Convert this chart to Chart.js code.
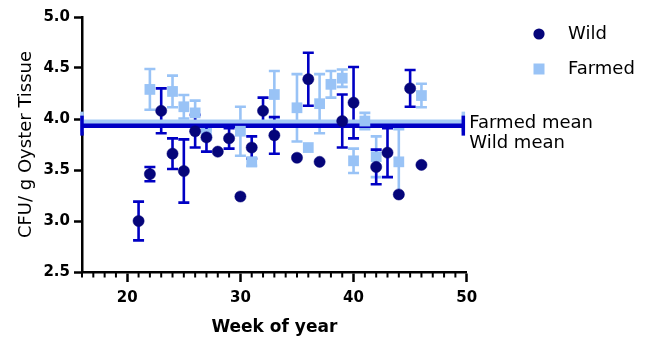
<!DOCTYPE html>
<html>
<head>
<meta charset="utf-8">
<script src="https://cdn.jsdelivr.net/npm/chart.js@4/dist/chart.umd.min.js"></script>
<style>
  html, body { margin: 0; padding: 0; background: #fff; }
  #wrap { width: 650px; height: 341px; }
</style>
</head>
<body>
<div id="wrap"><canvas id="chart" width="650" height="341"></canvas></div>
<script>
// Weekly oyster counts (log CFU per g tissue), mean and error half-width per week
const wildWeeks = [21, 22, 23, 24, 25, 26, 27, 28, 29, 30, 31, 32, 33, 35, 36, 37, 39, 40, 42, 43, 44, 45, 46];
const wildValues = [3.00, 3.46, 4.08, 3.66, 3.49, 3.88, 3.82, 3.68, 3.81, 3.24, 3.72, 4.08, 3.84, 3.62, 4.39, 3.58, 3.98, 4.16, 3.53, 3.67, 3.26, 4.30, 3.55];
const wildErrors = [0.19, 0.07, 0.22, 0.15, 0.31, 0.16, 0.14, 0, 0.10, 0, 0.11, 0.13, 0.18, 0, 0.26, 0, 0.26, 0.35, 0.17, 0.24, 0, 0.18, 0];

const farmedWeeks = [22, 24, 25, 26, 27, 30, 31, 33, 35, 36, 37, 38, 39, 40, 41, 42, 44, 46];
const farmedValues = [4.29, 4.27, 4.12, 4.06, 3.85, 3.88, 3.58, 4.24, 4.11, 3.72, 4.15, 4.34, 4.40, 3.59, 3.98, 3.63, 3.58, 4.23];
const farmedErrors = [0.20, 0.155, 0.115, 0.12, 0.05, 0.24, 0.04, 0.23, 0.33, 0, 0.29, 0.13, 0.085, 0.12, 0.08, 0.20, 0.32, 0.115];

// Overall group means, drawn as capped horizontal lines over the season
const wildMean = 3.935;
const farmedMean = 3.974;
const meanSpan = [16, 49.7];

const yTicks = [2.5, 3.0, 3.5, 4.0, 4.5, 5.0];
const xLabelWeeks = [20, 30, 40, 50];

const WILD_FILL = '#05057a';
const WILD_BAR = '#0000c4';
const FARMED_FILL = '#99c3f6';
const FARMED_MEAN = '#a6cbf6';
const FONT = 'DejaVu Sans';

const toPoints = (weeks, vals) => weeks.map((w, i) => ({ x: w, y: vals[i] }));

// Error bars with caps, under the markers
const errorBars = {
  id: 'errorBars',
  beforeDatasetsDraw(chart) {
    const { ctx } = chart;
    const xs = chart.scales.x, ys = chart.scales.y;
    const draw = (weeks, vals, errs, color) => {
      ctx.save();
      ctx.strokeStyle = color;
      ctx.lineWidth = 2.6;
      weeks.forEach((w, i) => {
        if (!errs[i]) return;
        const px = xs.getPixelForValue(w);
        const top = ys.getPixelForValue(vals[i] + errs[i]);
        const bot = ys.getPixelForValue(vals[i] - errs[i]);
        ctx.beginPath();
        ctx.moveTo(px, top); ctx.lineTo(px, bot);
        ctx.moveTo(px - 5.5, top); ctx.lineTo(px + 5.5, top);
        ctx.moveTo(px - 5.5, bot); ctx.lineTo(px + 5.5, bot);
        ctx.stroke();
      });
      ctx.restore();
    };
    draw(farmedWeeks, farmedValues, farmedErrors, FARMED_FILL);
    draw(wildWeeks, wildValues, wildErrors, WILD_BAR);
  }
};

// Minor week ticks, the key and the mean labels
const extras = {
  id: 'extras',
  afterDraw(chart) {
    const { ctx, chartArea } = chart;
    const xs = chart.scales.x, ys = chart.scales.y;
    ctx.save();
    ctx.strokeStyle = '#000';
    ctx.lineWidth = 2;
    xs.ticks.forEach(t => {
      if (xLabelWeeks.includes(t.value)) return;
      const px = xs.getPixelForValue(t.value);
      ctx.beginPath();
      ctx.moveTo(px, chartArea.bottom);
      ctx.lineTo(px, chartArea.bottom + 5.5);
      ctx.stroke();
    });

    // key
    ctx.fillStyle = WILD_FILL;
    ctx.beginPath();
    ctx.arc(539, 34, 5.6, 0, Math.PI * 2);
    ctx.fill();
    ctx.fillStyle = FARMED_FILL;
    ctx.fillRect(533.5, 63.5, 11, 11);

    ctx.fillStyle = '#000';
    ctx.font = `18px "${FONT}"`;
    ctx.textBaseline = 'middle';
    ctx.textAlign = 'left';
    ctx.fillText('Wild', 568, 34);
    ctx.fillText('Farmed', 568, 69);

    // mean labels beside the right end of the lines
    const labelX = xs.getPixelForValue(meanSpan[1]) + 6;
    ctx.fillText('Farmed mean', labelX, ys.getPixelForValue(farmedMean) + 1.5);
    ctx.fillText('Wild mean', labelX, ys.getPixelForValue(wildMean) + 18);
    ctx.restore();
  }
};

const meanLine = (value, color, order) => ({
  type: 'line',
  data: meanSpan.map(x => ({ x, y: value })),
  borderColor: color,
  borderWidth: 4.5,
  pointStyle: 'line',
  rotation: 90,
  pointRadius: 10,
  pointBorderWidth: 3.5,
  pointBorderColor: color,
  pointBackgroundColor: color,
  clip: false,
  order
});

new Chart(document.getElementById('chart'), {
  type: 'scatter',
  data: {
    datasets: [
      {
        label: 'Wild',
        data: toPoints(wildWeeks, wildValues),
        pointStyle: 'circle',
        pointRadius: 5.6,
        backgroundColor: WILD_FILL,
        borderColor: WILD_FILL,
        borderWidth: 0.5,
        clip: false,
        order: 0
      },
      {
        label: 'Farmed',
        data: toPoints(farmedWeeks, farmedValues),
        pointStyle: 'rect',
        pointRadius: 7.6,
        backgroundColor: FARMED_FILL,
        borderColor: FARMED_FILL,
        borderWidth: 0,
        clip: false,
        order: 1
      },
      Object.assign(meanLine(wildMean, WILD_BAR, 2), { label: 'Wild mean' }),
      Object.assign(meanLine(farmedMean, FARMED_MEAN, 3), { label: 'Farmed mean' })
    ]
  },
  options: {
    responsive: false,
    devicePixelRatio: 1,
    animation: false,
    events: [],
    layout: { padding: { left: 0, top: 17, right: 183.3, bottom: 0 } },
    plugins: { legend: { display: false }, tooltip: { enabled: false } },
    scales: {
      x: {
        type: 'linear',
        min: 16,
        max: 50,
        ticks: {
          stepSize: 1,
          maxTicksLimit: 100,
          autoSkip: false,
          maxRotation: 0,
          callback: v => (xLabelWeeks.includes(v) ? String(v) : ''),
          font: { family: FONT, weight: 'bold', size: 15 },
          color: '#000',
          padding: 7
        },
        grid: {
          display: true,
          drawOnChartArea: false,
          drawTicks: true,
          tickLength: 10,
          tickWidth: 2.5,
          tickColor: c => (c.tick && xLabelWeeks.includes(c.tick.value) ? '#000' : 'rgba(0,0,0,0)')
        },
        border: { display: true, color: '#000', width: 2.5 },
        title: {
          display: true,
          text: 'Week of year',
          font: { family: FONT, weight: 'bold', size: 17 },
          color: '#000',
          padding: { top: 0, bottom: 3 }
        },
        afterFit(s) { s.height = 69; }
      },
      y: {
        type: 'linear',
        min: yTicks[0],
        max: yTicks[yTicks.length - 1],
        afterBuildTicks(s) { s.ticks = yTicks.map(v => ({ value: v })); },
        ticks: {
          callback: v => Number(v).toFixed(1),
          font: { family: FONT, weight: 'bold', size: 15 },
          color: '#000',
          padding: 4
        },
        grid: {
          display: true,
          drawOnChartArea: false,
          drawTicks: true,
          tickLength: 8,
          tickWidth: 2.5,
          tickColor: '#000'
        },
        border: { display: true, color: '#000', width: 2.5 },
        title: {
          display: true,
          text: 'CFU/ g Oyster Tissue',
          font: { family: FONT, size: 18 },
          color: '#000',
          padding: { top: 15.5, bottom: 0 }
        },
        afterFit(s) { s.width = 82; }
      }
    }
  },
  plugins: [errorBars, extras]
});
</script>
</body>
</html>
